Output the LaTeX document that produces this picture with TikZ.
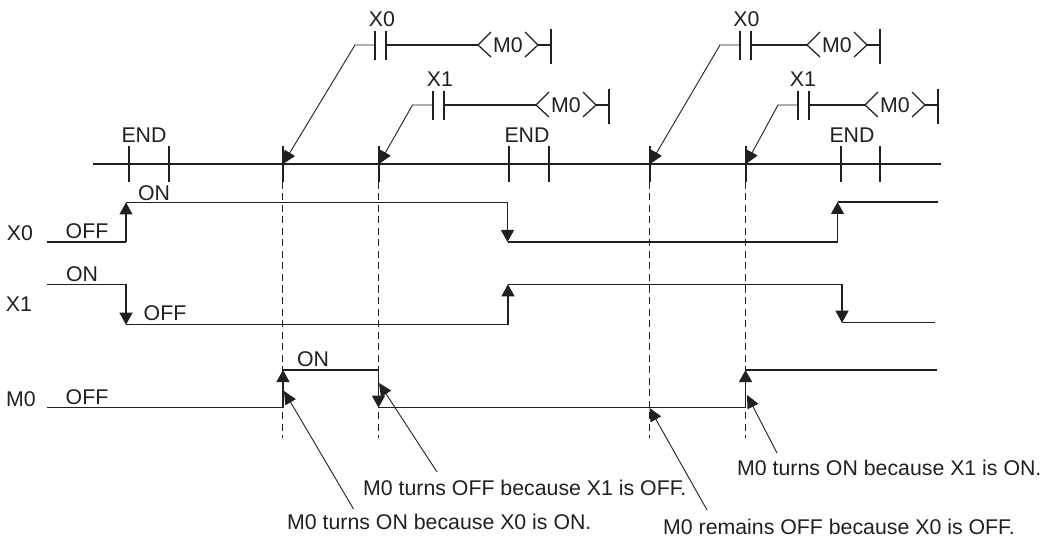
\documentclass[tikz,border=0pt]{standalone}
\usepackage{fontspec}
\setmainfont{Liberation Sans}
\usetikzlibrary{arrows.meta}
\definecolor{ink}{HTML}{231F20}
\tikzset{
  x=1pt,y=-1pt,
  every path/.style={color=ink},
  lbl/.style={inner sep=0pt,text=ink,font=\fontsize{21.3}{24}\selectfont},
  axisline/.style={draw=ink,line width=1.4pt},
  sig/.style={draw=ink,line width=1.25pt},
  sigarrow/.style={draw=ink,line width=1.25pt,-{Triangle[length=12pt,width=13pt]}},
  pointer/.style={draw=ink,line width=0.9pt,-{Triangle[length=13pt,width=12pt]}},
  guide/.style={draw=ink,line width=0.8pt,dash pattern=on 7pt off 4.5pt},
}
% id, target tick, bend x, first bar x, coil tip x, y, contact label, label x
\newcommand{\rung}[8]{%
  \coordinate (#1bend) at (#3,#6);
  \coordinate (#1a) at (#4,#6);
  \coordinate (#1b) at (#4+11,#6);
  \coordinate (#1tip) at (#5,#6);
  \coordinate (#1otip) at (#5+60,#6);
  \coordinate (#1end) at (#5+73,#6);
  \draw[pointer] (#1a) -- (#1bend) -- (#2);
  \draw[axisline] (#4,#6-14) -- (#4,#6+15);
  \draw[axisline] (#4+11,#6-14) -- (#4+11,#6+15);
  \draw[axisline] (#1b) -- (#1tip);
  \draw[sig] (#5+13,#6-13) -- (#1tip) -- (#5+13,#6+12);
  \draw[sig] (#5+47,#6-13) -- (#1otip) -- (#5+47,#6+12);
  \draw[axisline] (#1otip) -- (#1end);
  \draw[axisline] (#5+73,#6-16) -- (#5+73,#6+19);
  \node[lbl] (#1coil) at (#5+30,#6) {M0};
  \node[lbl] (#1lab) at (#8,#6-26) {#7};
}
\begin{document}
\begin{tikzpicture}
\useasboundingbox (0,0) rectangle (1041,537);
% time axis
\coordinate (axL) at (93,164);
\coordinate (axR) at (941,164);
\draw[axisline] (axL) -- (axR);
\foreach \n/\x in {t1/129,t2/169,t3/283,t4/379,t5/509,t6/549,t7/650,t8/746,t9/841,t10/880}{
  \coordinate (\n) at (\x,164);
  \draw[axisline] (\x,146) -- (\x,182);
}
% dashed guides
\foreach \n/\x in {g1/282.7,g2/378.5,g3/649.5,g4/745.5}{
  \coordinate (\n) at (\x,182);
  \coordinate (\n e) at (\x,438);
  \draw[guide] (\n) -- (\n e);
}
% rungs
\rung{ra}{t3}{355}{375}{478}{45}{X0}{382}
\rung{rb}{t4}{412.5}{433}{536}{105}{X1}{440}
\rung{rc}{t7}{720}{740}{807}{45}{X0}{746.5}
\rung{rd}{t8}{778}{798}{865}{105}{X1}{803}
% X0 signal
\coordinate (a0) at (47,242); \coordinate (a1) at (126,242); \coordinate (a2) at (126,202.5);
\coordinate (a3) at (507.5,202.5); \coordinate (a4) at (507.5,242); \coordinate (a5) at (837.5,242);
\coordinate (a6) at (837.5,202); \coordinate (a7) at (938,202);
\draw[sig] (a0) -- (a1);
\draw[sigarrow] (a1) -- (a2);
\draw[sig] (a2) -- (a3);
\draw[sigarrow] (a3) -- (a4);
\draw[sig] (a4) -- (a5);
\draw[sigarrow] (a5) -- (a6);
\draw[axisline] (a6) -- (a7);
% X1 signal
\coordinate (b0) at (47,284.3); \coordinate (b1) at (126,284.3); \coordinate (b2) at (126,324.7);
\coordinate (b3) at (508,324.7); \coordinate (b4) at (508,284.3); \coordinate (b5) at (842,284.3);
\coordinate (b6) at (842,322.7); \coordinate (b7) at (935,322.7);
\draw[sig] (b0) -- (b1);
\draw[sigarrow] (b1) -- (b2);
\draw[sig] (b2) -- (b3);
\draw[sigarrow] (b3) -- (b4);
\draw[sig] (b4) -- (b5);
\draw[sigarrow] (b5) -- (b6);
\draw[axisline] (b6) -- (b7);
% M0 signal
\coordinate (c0) at (47,407.7); \coordinate (c1) at (283,407.7); \coordinate (c2) at (283,370);
\coordinate (c3) at (378.5,370); \coordinate (c4) at (378.5,407.7); \coordinate (c5) at (745.5,407.7);
\coordinate (c6) at (745.5,370); \coordinate (c7) at (937,370);
\draw[sig] (c0) -- (c1);
\draw[sigarrow] (c1) -- (c2);
\draw[sig] (c2) -- (c3);
\draw[sigarrow] (c3) -- (c4);
\draw[sig] (c4) -- (c5);
\draw[sigarrow] (c5) -- (c6);
\draw[axisline] (c6) -- (c7);
% labels
\node[lbl] (end1) at (144,135) {END};
\node[lbl] (end2) at (527,135) {END};
\node[lbl] (end3) at (852,135) {END};
\node[lbl] (x0on) at (154,193) {ON};
\node[lbl] (x0l) at (20,233) {X0};
\node[lbl] (x0off) at (87,231) {OFF};
\node[lbl] (x1l) at (19,304) {X1};
\node[lbl] (x1on) at (82,274) {ON};
\node[lbl] (x1off) at (165,313) {OFF};
\node[lbl] (m0l) at (21,399) {M0};
\node[lbl] (m0off) at (87,397) {OFF};
\node[lbl] (m0on) at (313,359) {ON};
% captions
\node[lbl,anchor=west] (capa) at (287,522) {M0 turns ON because X0 is ON.};
\node[lbl,anchor=west] (capb) at (363,488) {M0 turns OFF because X1 is OFF.};
\node[lbl,anchor=west] (capc) at (663,526.5) {M0 remains OFF because X0 is OFF.};
\node[lbl,anchor=west] (capd) at (737,468) {M0 turns ON because X1 is ON.};
% caption pointers
\coordinate (pa) at (353.5,509); \coordinate (qa) at (284,391);
\coordinate (pb) at (437,472); \coordinate (qb) at (379,383);
\coordinate (pc) at (707,510); \coordinate (qc) at (649.5,408);
\coordinate (pd) at (777,453); \coordinate (qd) at (747,395);
\draw[pointer] (pa) -- (qa);
\draw[pointer] (pb) -- (qb);
\draw[pointer] (pc) -- (qc);
\draw[pointer] (pd) -- (qd);
\end{tikzpicture}
\end{document}
